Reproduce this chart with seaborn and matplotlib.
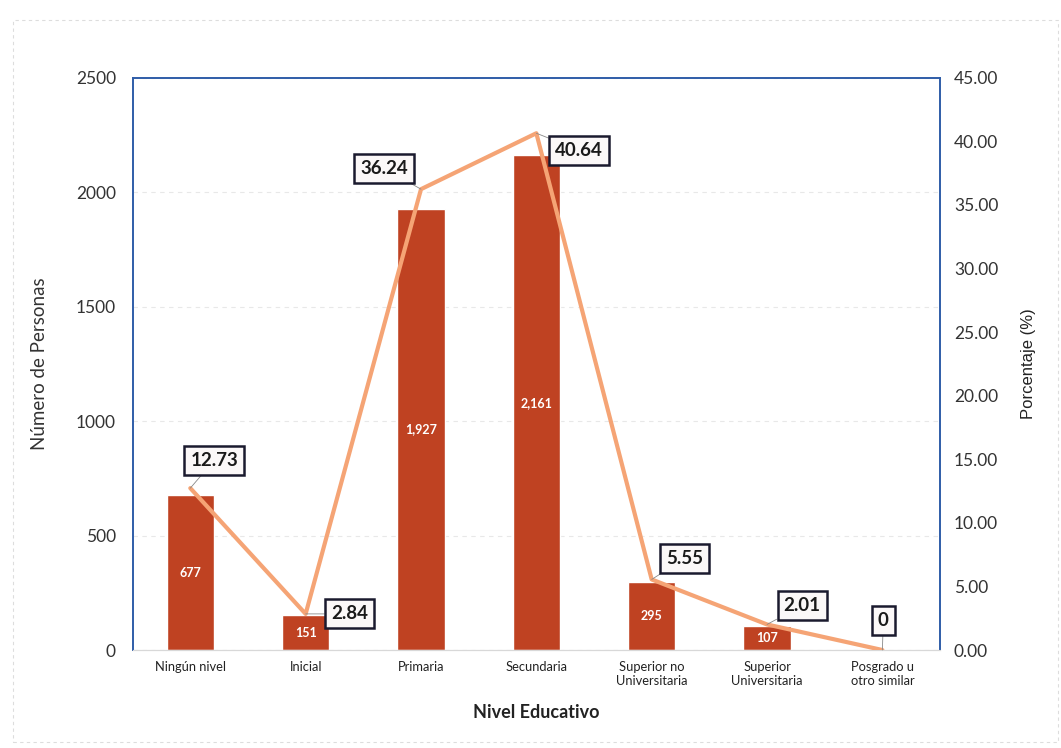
import matplotlib
matplotlib.use("Agg")
import matplotlib.pyplot as plt
import seaborn as sns
import numpy as np
import pandas as pd

categorias = ["Ningún nivel", "Inicial", "Primaria", "Secundaria",
              "Superior no\nUniversitaria", "Superior\nUniversitaria",
              "Posgrado u\notro similar"]
personas = [677, 151, 1927, 2161, 295, 107, 0]
porcentaje = [12.73, 2.84, 36.24, 40.64, 5.55, 2.01, 0]
etiquetas_pct = ["12.73", "2.84", "36.24", "40.64", "5.55", "2.01", "0"]

sns.set_theme(style="white")
plt.rcParams['font.family'] = ['Lato', 'DejaVu Sans']

df = pd.DataFrame({"cat": categorias, "n": personas, "pct": porcentaje,
                   "pos": np.arange(len(categorias))})

fig = plt.figure(figsize=(10.61, 7.48), dpi=100)
ax = fig.add_axes([0.125, 0.131, 0.761, 0.765])

bar_color = "#BF4222"
line_color = "#F5A475"
frame_color = "#2F5DA8"

sns.barplot(data=df, x="cat", y="n", color=bar_color, width=0.41,
            saturation=1, ax=ax, zorder=2)
ax.set_ylim(0, 2500)
ax.set_yticks(np.arange(0, 2501, 500))
ax.set_xlim(-0.5, len(categorias) - 0.5)
ax.yaxis.grid(True, color="#E8E8E8", linestyle=(0, (4, 4)), linewidth=0.8, zorder=0)
ax.set_axisbelow(True)

for c in ax.containers:
    ax.bar_label(c, labels=[f"{v:,.0f}" if v > 0 else "" for v in personas],
                 label_type="center", color="white", fontsize=9,
                 fontweight="bold")

ax.set_ylabel("Número de Personas", fontsize=13.5, color="#333333", labelpad=20)
ax.set_xlabel("Nivel Educativo", fontsize=13, fontweight="bold",
              color="#222222", labelpad=12)
ax.tick_params(axis="y", labelsize=12.5, colors="#333333", length=0, pad=12)
ax.tick_params(axis="x", labelsize=9.3, colors="#222222", length=0, pad=8)

ax2 = ax.twinx()
sns.lineplot(data=df, x="pos", y="pct", color=line_color, linewidth=3,
             ax=ax2, zorder=3)
ax2.set_ylim(0, 45)
ax2.set_yticks(np.arange(0, 45.01, 5))
ax2.set_yticklabels([f"{v:.2f}" for v in np.arange(0, 45.01, 5)])
ax2.tick_params(axis="y", labelsize=12.5, colors="#333333", length=0, pad=10)
ax2.set_ylabel("Porcentaje (%)", fontsize=12, color="#222222",
               family=["Liberation Sans", "DejaVu Sans"], labelpad=16)
ax2.set_xlabel("")
ax2.set_xlim(-0.5, len(categorias) - 0.5)

offsets = [(24, 28), (44, 0), (-37, 21), (43, -17), (33, 21), (35, 19), (1, 30)]
for i, (v, lab) in enumerate(zip(porcentaje, etiquetas_pct)):
    ax2.annotate(lab, xy=(i, v), xytext=offsets[i], textcoords="offset pixels",
                 ha="center", va="center", fontsize=13.5, fontweight="bold",
                 color="#1A1A1A",
                 bbox=dict(boxstyle="square,pad=0.32", fc="#FBF8F8",
                           ec="#1A1A2E", lw=1.8),
                 arrowprops=dict(arrowstyle="-", color="#888888", lw=0.6,
                                 shrinkA=0, shrinkB=0),
                 zorder=5)

for a in (ax, ax2):
    for s in ("top", "left", "right"):
        a.spines[s].set_color(frame_color)
        a.spines[s].set_linewidth(1.2)
    a.spines["bottom"].set_color("#D8D8D8")
    a.spines["bottom"].set_linewidth(0.8)

fig.patches.append(plt.Rectangle((0.012, 0.008), 0.985, 0.965,
                                 transform=fig.transFigure, fill=False,
                                 ec="#DDDDDD", lw=0.8, ls=(0, (3, 3))))

fig.savefig("out.png", dpi=100, facecolor="white")
